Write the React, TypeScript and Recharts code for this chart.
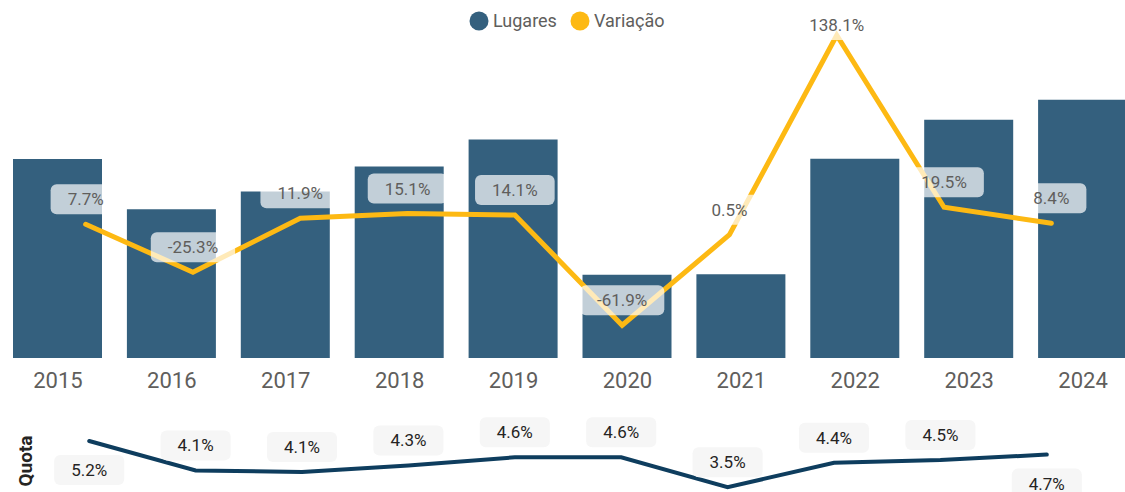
import React from 'react';
import { ComposedChart, Bar, Line, XAxis, YAxis, LabelList } from 'recharts';

const years = ['2015', '2016', '2017', '2018', '2019', '2020', '2021', '2022', '2023', '2024'];
const lugares = [1990, 1487, 1664, 1915, 2185, 833, 837, 1993, 2382, 2582];
const variacao = [7.7, -25.3, 11.9, 15.1, 14.1, -61.9, 0.5, 138.1, 19.5, 8.4];
const quota = [5.2, 4.12, 4.06, 4.3, 4.6, 4.6, 3.5, 4.4, 4.5, 4.7];

const legendItems = [
  { name: 'Lugares', color: '#34607E' },
  { name: 'Variação', color: '#FDB913' },
];

const mainData = years.map((y, i) => ({ year: y, lugares: lugares[i], variacao: variacao[i] }));
const quotaData = years.map((y, i) => ({ year: y, quota: quota[i] }));

const FONT = 'Roboto, "Noto Sans", sans-serif';

const textWidth = (t: string, fs: number) => {
  let w = 0;
  for (const c of t) {
    if (c === '.') w += 0.264;
    else if (c === '%') w += 0.733;
    else if (c === '-') w += 0.276;
    else w += 0.562;
  }
  return w * fs;
};

const VarLabel = (props: any) => {
  const { x, y, value } = props;
  if (x == null || y == null) return null;
  const txt = `${Number(value).toFixed(1)}%`;
  const w = textWidth(txt, 17) + 34;
  const cy = Math.max(y - 25, 25);
  return (
    <g>
      <rect x={x - w / 2} y={cy - 15} width={w} height={30} rx={6} ry={6} fill="#ffffff" fillOpacity={0.7} />
      <text x={x} y={cy + 6} textAnchor="middle" fontSize={17} fill="#605E5C" fontFamily={FONT}>
        {txt}
      </text>
    </g>
  );
};

const QuotaLabel = (props: any) => {
  const { x, y, value, index } = props;
  if (x == null || y == null) return null;
  const txt = `${Number(value).toFixed(1)}%`;
  const w = textWidth(txt, 17) + 34;
  const below = index === 0 || index === quota.length - 1;
  const cy = below ? y + 29 : y - 25;
  return (
    <g>
      <rect x={x - w / 2} y={cy - 15} width={w} height={30} rx={6} ry={6} fill="#F6F6F6" />
      <text x={x} y={cy + 6} textAnchor="middle" fontSize={17} fill="#252423" fontFamily={FONT}>
        {txt}
      </text>
    </g>
  );
};

const YearTick = (props: any) => {
  const { x, payload } = props;
  return (
    <text x={x} y={388} textAnchor="middle" fontSize={22} fill="#605E5C" fontFamily={FONT}>
      {payload.value}
    </text>
  );
};

export default function App() {
  return (
    <div
      style={{
        position: 'absolute',
        left: 0,
        top: 0,
        width: 1125,
        height: 492,
        overflow: 'hidden',
        background: '#ffffff',
      }}
    >
      <div style={{ position: 'absolute', left: 0, top: 0 }}>
        <ComposedChart width={1140} height={398} data={mainData} margin={{ top: 10, right: 0, left: 1, bottom: 0 }}>
          <XAxis
            xAxisId="bar"
            dataKey="year"
            axisLine={false}
            tickLine={false}
            height={40}
            interval={0}
            tick={<YearTick />}
          />
          <XAxis xAxisId="line" dataKey="year" hide padding={{ left: 31, right: 35 }} />
          <YAxis yAxisId="bar" hide domain={[0, 3480]} allowDataOverflow />
          <YAxis yAxisId="line" hide domain={[-84.5, 155.5]} allowDataOverflow />
          <Bar
            xAxisId="bar"
            yAxisId="bar"
            dataKey="lugares"
            fill="#34607E"
            barSize={89}
            isAnimationActive={false}
          />
          <Line
            xAxisId="line"
            yAxisId="line"
            dataKey="variacao"
            stroke="#FDB913"
            strokeWidth={5}
            strokeLinecap="round"
            strokeLinejoin="miter"
            dot={false}
            activeDot={false}
            type="linear"
            isAnimationActive={false}
          >
            <LabelList dataKey="variacao" content={<VarLabel />} />
          </Line>
        </ComposedChart>
      </div>

      <div style={{ position: 'absolute', left: 0, top: 400 }}>
        <ComposedChart width={1125} height={100} data={quotaData} margin={{ top: 0, right: 25, left: 36, bottom: 0 }}>
          <XAxis dataKey="year" hide scale="band" />
          <YAxis hide domain={[3.03, 6.71]} allowDataOverflow />
          <Line
            dataKey="quota"
            stroke="#0E3D5E"
            strokeWidth={4}
            strokeLinecap="round"
            dot={false}
            activeDot={false}
            type="linear"
            isAnimationActive={false}
          >
            <LabelList dataKey="quota" content={<QuotaLabel />} />
          </Line>
        </ComposedChart>
      </div>

      <svg width={1125} height={492} style={{ position: 'absolute', left: 0, top: 0, pointerEvents: 'none' }}>
        <circle cx={479} cy={21} r={9.5} fill={legendItems[0].color} />
        <text x={493} y={27} fontSize={18} fill="#605E5C" fontFamily={FONT}>
          {legendItems[0].name}
        </text>
        <circle cx={580} cy={21} r={9.5} fill={legendItems[1].color} />
        <text x={594} y={27} fontSize={18} fill="#605E5C" fontFamily={FONT}>
          {legendItems[1].name}
        </text>
        <text
          x={0}
          y={0}
          transform="translate(32 461) rotate(-90)"
          textAnchor="middle"
          fontSize={19}
          fontWeight="bold"
          fill="#252423"
          fontFamily={FONT}
        >
          Quota
        </text>
      </svg>
    </div>
  );
}
